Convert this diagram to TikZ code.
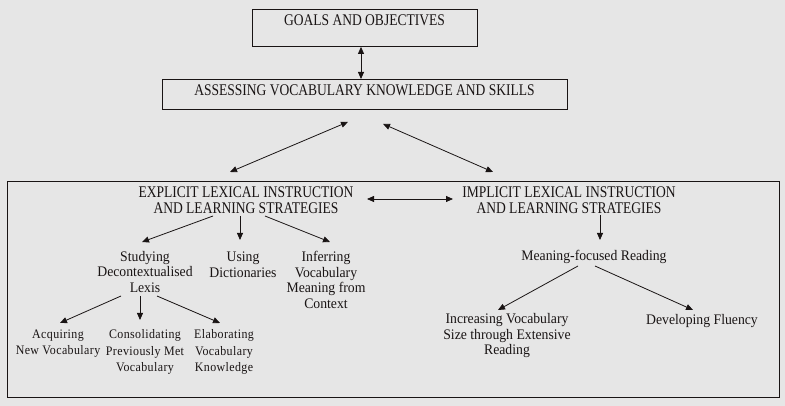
\documentclass[tikz,border=0pt]{standalone}
\usepackage{fontspec}
\setmainfont{Liberation Serif}
\newfontfamily\capsfont[FakeStretch=0.83]{Liberation Serif}
\newfontfamily\txtfont[FakeStretch=0.94]{Liberation Serif}
\newfontfamily\smallfont[FakeStretch=0.92,LetterSpace=3]{Liberation Serif}
\usetikzlibrary{arrows.meta}
\definecolor{bg}{RGB}{230,230,230}
\definecolor{ink}{RGB}{25,20,20}
\tikzset{
  caps/.style={font=\capsfont\fontsize{16.3}{16}\selectfont, text=ink, inner sep=0pt, align=center},
  txt/.style={font=\txtfont\fontsize{14.6}{15.5}\selectfont, text=ink, inner sep=0pt, align=center},
  small/.style={font=\smallfont\fontsize{13}{16.5}\selectfont, text=ink, inner sep=0pt, align=center},
  boxed/.style={draw=ink, line width=0.9pt, inner xsep=0pt},
  arr/.style={draw=ink, line width=0.8pt, -{Triangle[length=7pt,width=6pt]}},
  darr/.style={draw=ink, line width=0.8pt, {Triangle[length=7pt,width=6pt]}-{Triangle[length=7pt,width=6pt]}}
}
\begin{document}
\begin{tikzpicture}[x=1pt,y=-1pt]
\fill[bg] (0,0) rectangle (785,406);
\useasboundingbox (0,0) rectangle (785,406);
% boxes
\node[boxed, caps, minimum width=225pt, text height=12pt, text depth=16pt, inner ysep=4.5pt, anchor=north] (goals) at (364.5,9) {GOALS AND OBJECTIVES};
\node[boxed, caps, minimum width=405pt, text height=10pt, text depth=8pt, inner ysep=6pt, anchor=north] (assess) at (364.5,79) {ASSESSING VOCABULARY KNOWLEDGE AND SKILLS};
\node[boxed, minimum width=772pt, minimum height=216pt, inner sep=0pt] (frame) at (393,289) {};
% headings
\node[caps] (expl) at (246,200) {EXPLICIT LEXICAL INSTRUCTION\\AND LEARNING STRATEGIES};
\node[caps] (impl) at (569,200) {IMPLICIT LEXICAL INSTRUCTION\\AND LEARNING STRATEGIES};
% explicit branch
\node[txt] (study) at (145,272) {Studying\\Decontextualised\\Lexis};
\node[txt] (using) at (243,264.5) {Using\\Dictionaries};
\node[txt] (infer) at (326,280) {Inferring\\Vocabulary\\Meaning from\\Context};
\node[small] (acq) at (58,343.5) {Acquiring\\New Vocabulary};
\node[small] (cons) at (145,352) {Consolidating\\Previously Met\\Vocabulary};
\node[small] (elab) at (224,352) {Elaborating\\Vocabulary\\Knowledge};
% implicit branch
\node[txt] (mean) at (594,257) {Meaning-focused Reading};
\node[txt] (incr) at (507,336) {Increasing Vocabulary\\Size through Extensive\\Reading};
\node[txt] (dev) at (702,321) {Developing Fluency};
% connectors
\draw[darr] ([xshift=-3.5pt]goals.south) -- ([xshift=-3.5pt]assess.north);
\draw[darr] ([shift={(-16.5,12)}]assess.south) -- ([shift={(-16,-28)}]expl.center);
\draw[darr] ([shift={(18.5,14)}]assess.south) -- ([shift={(-76,-28)}]impl.center);
\draw[darr] ([shift={(121,-1)}]expl.center) -- ([shift={(-116,-1)}]impl.center);
\draw[arr] ([shift={(-33,16)}]expl.center) -- ([shift={(-3,-30)}]study.center);
\draw[arr] ([shift={(-6,16)}]expl.center) -- ([shift={(-3,-24.5)}]using.center);
\draw[arr] ([shift={(19,16)}]expl.center) -- ([shift={(4,-38)}]infer.center);
\draw[arr] ([shift={(-24,24)}]study.center) -- ([shift={(2,-20.5)}]acq.center);
\draw[arr] ([shift={(-5,24)}]study.center) -- ([shift={(-5,-32)}]cons.center);
\draw[arr] ([shift={(12,24)}]study.center) -- ([shift={(-4,-29)}]elab.center);
\draw[arr] ([shift={(31,15)}]impl.center) -- ([shift={(6,-17)}]mean.center);
\draw[arr] ([shift={(-16,9)}]mean.center) -- ([shift={(-9,-26)}]incr.center);
\draw[arr] ([shift={(1,9)}]mean.center) -- ([shift={(-9,-11)}]dev.center);
\end{tikzpicture}
\end{document}
